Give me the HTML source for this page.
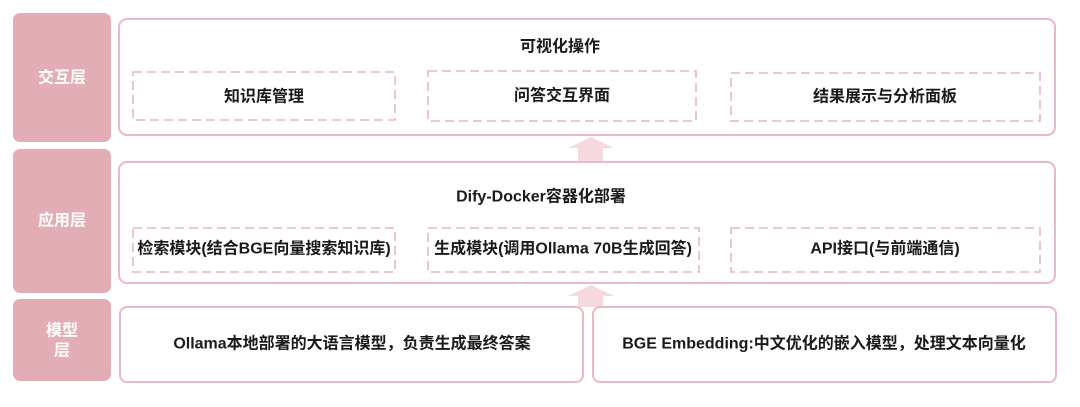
<!DOCTYPE html>
<html><head><meta charset="utf-8"><style>
body{margin:0;background:#fff;width:1080px;height:402px;overflow:hidden}
svg text{font-family:"Liberation Sans","Noto Sans CJK SC",sans-serif;font-weight:bold;text-anchor:middle;dominant-baseline:central}
</style></head><body>
<svg width="1080" height="402" viewBox="0 0 1080 402" xmlns="http://www.w3.org/2000/svg">
<g fill="#e3adb5">
<rect x="13" y="13" width="98" height="129" rx="7"/>
<rect x="13" y="149" width="98" height="144" rx="7"/>
<rect x="13" y="299" width="98" height="82" rx="7"/>
</g>
<g fill="#fff" font-size="16">
<text x="62" y="78">交互层</text>
<text x="62" y="221">应用层</text>
<text x="62" y="331">模型</text>
<text x="62" y="351">层</text>
</g>
<g fill="#f6d9de">
<polygon points="568,148 591,137 614,148 603,148 603,162 578,162 578,148"/>
<polygon points="568,296 591,285 614,296 603,296 603,307 578,307 578,296"/>
</g>
<g fill="none" stroke="#eab9c2" stroke-width="2">
<rect x="119" y="19" width="936" height="116" rx="8"/>
<rect x="119" y="162" width="936" height="121" rx="8"/>
<rect x="120" y="307" width="463" height="75" rx="7"/>
<rect x="593" y="307" width="463" height="75" rx="7"/>
</g>
<g fill="none" stroke="#e8b6bf" stroke-width="1.6" stroke-dasharray="9,5">
<rect x="133" y="72" width="262" height="48"/>
<rect x="428" y="71" width="268" height="50"/>
<rect x="731" y="73" width="309" height="48"/>
<rect x="133" y="228" width="262" height="44"/>
<rect x="428" y="228" width="271" height="44"/>
<rect x="731" y="228" width="309" height="44"/>
</g>
<g fill="#1a1a1a" font-size="16">
<text x="560" y="47">可视化操作</text>
<text x="264" y="97">知识库管理</text>
<text x="562" y="96">问答交互界面</text>
<text x="885" y="97">结果展示与分析面板</text>
<text x="541" y="197">Dify-Docker容器化部署</text>
<text x="264" y="249">检索模块(结合BGE向量搜索知识库)</text>
<text x="563" y="249">生成模块(调用Ollama 70B生成回答)</text>
<text x="885" y="249">API接口(与前端通信)</text>
<text x="352" y="344">Ollama本地部署的大语言模型，负责生成最终答案</text>
<text x="824" y="344">BGE Embedding:中文优化的嵌入模型，处理文本向量化</text>
</g>
</svg>
</body></html>
